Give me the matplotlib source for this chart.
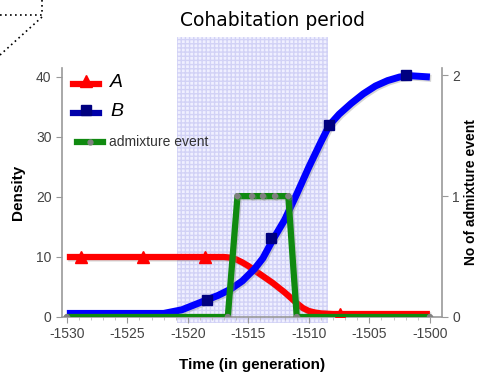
"""
Cohabitation period chart: densities of A and B plus admixture events
"""

import matplotlib.pyplot as plt
from matplotlib.lines import Line2D
import matplotlib.patheffects as pe

plt.rcParams['font.family'] = ['Liberation Sans', 'DejaVu Sans']
plt.rcParams['axes.unicode_minus'] = False

# Population A density (red)
a_time = [-1530, -1517.5, -1517, -1516.5, -1516, -1515.5, -1515, -1514.5, -1514,
          -1513.5, -1513, -1512.5, -1512, -1511.5, -1511, -1510.5, -1510, -1509.5,
          -1509, -1508, -1500]
a_dens = [10, 10, 10, 9.9, 9.6, 9.1, 8.5, 7.8, 7.1, 6.4, 5.7, 4.9, 4.1, 3.2, 2.3,
          1.5, 1.0, 0.75, 0.6, 0.5, 0.5]
a_mark_t = [-1528.8, -1523.7, -1518.6, -1507.4]
a_mark_d = [10, 10, 10, 0.5]

# Population B density (blue)
b_time = [-1530, -1522, -1520.5, -1519, -1517.5, -1516.5, -1515.5, -1514.5, -1513.8,
          -1513, -1512, -1511, -1510, -1509, -1508.3, -1507.5, -1506.5, -1505.5,
          -1504.5, -1503.5, -1502.5, -1501.5, -1500]
b_dens = [0.6, 0.6, 1.2, 2.4, 3.6, 4.6, 6.0, 8.0, 9.8, 12.8, 16.2, 20.5, 25.0, 29.2,
          32.0, 33.8, 35.6, 37.2, 38.5, 39.4, 40.0, 40.2, 40.0]
b_mark_t = [-1518.4, -1513.1, -1508.3, -1502.0]
b_mark_d = [2.8, 13.2, 32.0, 40.3]

# Number of admixture events (green, right axis)
ev_time = [-1530, -1516.7, -1515.9, -1514.7, -1513.8, -1512.8, -1511.7, -1511.0, -1500]
ev_count = [0, 0, 1, 1, 1, 1, 1, 0, 0]

# Cohabitation window
cohab_start, cohab_end = -1520.9, -1508.4

fig = plt.figure(figsize=(4.78, 3.74), dpi=100)
ax = fig.add_axes([62 / 478, 57 / 374, 380 / 478, 249 / 374])
ax2 = ax.twinx()

# shaded period, spills above and below the plot area
ax.axvspan(cohab_start, cohab_end, ymin=-0.024, ymax=1.124, clip_on=False,
           facecolor='#f0f0ff', edgecolor='#d2d2f6', hatch='++++', linewidth=0, zorder=0)

shadow = [pe.SimpleLineShadow(offset=(1, -1), shadow_color='#888888', alpha=0.35), pe.Normal()]

ax.plot(a_time, a_dens, color='#ff0000', linewidth=4.5, solid_capstyle='butt',
        path_effects=shadow, zorder=3)
ax.plot(a_mark_t, a_mark_d, linestyle='none', marker='^', markersize=8,
        color='#ff0000', zorder=4)

ax.plot(b_time, b_dens, color='#0000ff', linewidth=5, solid_capstyle='butt',
        path_effects=shadow, zorder=3)
ax.plot(b_mark_t, b_mark_d, linestyle='none', marker='s', markersize=7,
        color='#000080', zorder=4)

ax2.plot(ev_time, ev_count, color='#108a10', linewidth=4.5, marker='o', markersize=3.5,
         markerfacecolor='#808080', markeredgecolor='#808080', solid_capstyle='butt',
         path_effects=shadow, zorder=3)

ax.set_xlim(-1530.4, -1499.0)
ax.set_ylim(0, 41.5)
ax2.set_ylim(0, 2 * 41.5 / 40.3)
ax.set_xticks([-1530, -1525, -1520, -1515, -1510, -1505, -1500])
ax.set_xticks(range(-1529, -1500), minor=True)
ax.set_yticks([0, 10, 20, 30, 40])
ax2.set_yticks([0, 1, 2])

for a in (ax, ax2):
    a.spines['top'].set_visible(False)
    for s in a.spines.values():
        s.set_color('#999999')
        s.set_linewidth(1.2)
    a.tick_params(colors='#999999', labelcolor='#444444', labelsize=10, length=4)
ax.spines['right'].set_visible(False)
ax2.spines['left'].set_visible(False)
ax2.spines['bottom'].set_visible(False)
ax.tick_params(axis='x', which='minor', length=2, colors='#bbbbbb')

ax.set_xlabel('Time (in generation)', fontsize=11, fontweight='bold', labelpad=12)
ax.set_ylabel('Density', fontsize=11, fontweight='bold', labelpad=8)
ax2.set_ylabel('No of admixture event', fontsize=10, fontweight='bold')
ax2.yaxis.set_label_coords((464 - 62) / 380, 0.5)

fig.text(273 / 478, 1 - 20 / 374, 'Cohabitation period', ha='center', va='center',
         fontsize=13.5, family='DejaVu Sans')

# legend drawn by hand (mixed font sizes)
def fig_xy(px, py):
    return px / 478, 1 - py / 374

legend_rows = [
    ('A', '#ff0000', '^', 84, 14, 'italic'),
    ('B', '#000080', 's', 113, 14, 'italic'),
    ('admixture event', '#108a10', 'o', 142, 10, 'normal'),
]
for label, col, mk, py, fs, style in legend_rows:
    x0, y0 = fig_xy(73, py)
    x1, _ = fig_xy(99, py)
    if mk == 'o':
        fig.add_artist(Line2D([x0 + 0.008, x1 + 0.008], [y0, y0], color=col, linewidth=4.5))
        fig.add_artist(Line2D([(x0 + x1) / 2 + 0.008], [y0], color='#808080', marker='o',
                              markersize=3.5, linestyle='none'))
        tx = fig_xy(109, py)[0]
    else:
        linec = '#ff0000' if mk == '^' else '#0000aa'
        fig.add_artist(Line2D([x0, x1], [y0, y0], color=linec, linewidth=4.5))
        fig.add_artist(Line2D([(x0 + x1) / 2], [y0 + 0.008], color=col, marker=mk,
                              markersize=8 if mk == '^' else 7, linestyle='none'))
        tx = fig_xy(110, py)[0]
    fig.text(tx, y0 + (0.004 if fs > 10 else 0), label, fontsize=fs, style=style,
             va='center', ha='left', color='black' if fs > 10 else '#333333')

# dotted corner lines (top left)
dot = dict(color='black', linestyle=(0, (1, 2)), linewidth=1.2)
fig.add_artist(Line2D([0, 42 / 478], [1 - 15 / 374, 1 - 15 / 374], **dot))
fig.add_artist(Line2D([42 / 478, 42 / 478], [1, 1 - 15 / 374], **dot))
fig.add_artist(Line2D([42 / 478, 0], [1 - 17 / 374, 1 - 55 / 374], **dot))

plt.savefig('out.png', dpi=100)
plt.close()
